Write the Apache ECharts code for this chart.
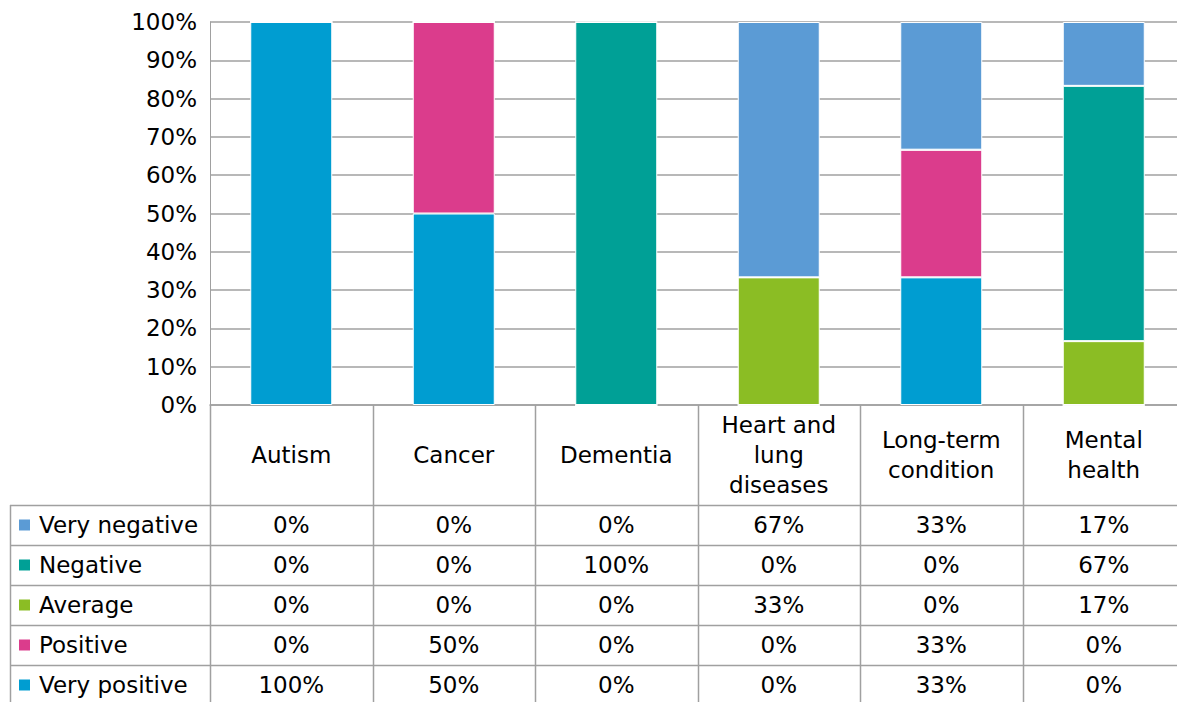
<!DOCTYPE html>
<html>
<head>
<meta charset="utf-8">
<title>Ratings by condition</title>
<script src="https://cdn.jsdelivr.net/npm/echarts@6/dist/echarts.min.js"></script>
<style>
  html, body { margin: 0; padding: 0; background: #fff; }
  #chart { width: 1177px; height: 702px; }
</style>
</head>
<body>
<div id="chart"></div>
<script>
// categories and values (percent of responses per condition)
const categories = ['Autism', 'Cancer', 'Dementia', 'Heart and\nlung\ndiseases', 'Long-term\ncondition', 'Mental\nhealth'];
const veryPositive = [100, 50, 0, 0, 33.33, 0];
const positive = [0, 50, 0, 0, 33.33, 0];
const average = [0, 0, 0, 33.33, 0, 16.67];
const negative = [0, 0, 100, 0, 0, 66.66];
const veryNegative = [0, 0, 0, 66.67, 33.33, 16.67];

// stack order, bottom to top
const seriesNames = ['Very positive', 'Positive', 'Average', 'Negative', 'Very negative'];
const seriesValues = [veryPositive, positive, average, negative, veryNegative];
const colors = ['#009dd1', '#db3c8c', '#8bbd24', '#00a096', '#5b9bd5'];

const FONT = 'DejaVu Sans';
const LINE = '#a0a0a0';
const axisY = 405;     // bottom of the plot
const headerH = 100;   // category label row
const rowH = 40;       // table rows

const chart = echarts.init(document.getElementById('chart'), null, { renderer: 'svg' });

chart.setOption({
  animation: false,
  color: colors,
  grid: { left: 210, width: 975, top: 22, bottom: 702 - axisY, outerBoundsMode: 'none', containLabel: false },
  xAxis: {
    type: 'category',
    data: categories,
    axisLine: { lineStyle: { color: LINE, width: 1.5 } },
    axisTick: { show: false },
    axisLabel: {
      interval: 0,
      margin: headerH / 2,
      verticalAlign: 'middle',
      fontFamily: FONT,
      fontSize: 23,
      lineHeight: 30,
      color: '#000'
    }
  },
  yAxis: {
    type: 'value',
    min: 0,
    max: 100,
    interval: 10,
    axisLine: { show: true, lineStyle: { color: LINE, width: 1 } },
    axisTick: { show: false },
    axisLabel: { formatter: '{value}%', margin: 13, fontFamily: FONT, fontSize: 23, color: '#000' },
    splitLine: { lineStyle: { color: LINE, width: 1.5 } }
  },
  series: seriesNames.map((name, i) => ({
    name: name,
    type: 'bar',
    stack: 'total',
    barWidth: 82,
    data: seriesValues[i],
    itemStyle: { borderColor: '#fff', borderWidth: 1 }
  }))
});

// data table under the axis
const graphic = [];
const tableTop = axisY + headerH;
const lineStyle = { stroke: LINE, lineWidth: 1.5 };
const c0 = chart.convertToPixel({ xAxisIndex: 0 }, 0);
const c1 = chart.convertToPixel({ xAxisIndex: 0 }, 1);
const band = c1 - c0;

// column separators
for (let c = 0; c <= categories.length; c++) {
  const x = Math.round(c0 - band / 2 + c * band) + 0.5;
  graphic.push({ type: 'line', shape: { x1: x, y1: axisY, x2: x, y2: 702 }, style: lineStyle });
}
graphic.push({ type: 'line', shape: { x1: 10.5, y1: tableTop, x2: 10.5, y2: 702 }, style: lineStyle });
for (let r = 0; r < seriesNames.length; r++) {
  const y = tableTop + r * rowH + 0.5;
  graphic.push({ type: 'line', shape: { x1: 10, y1: y, x2: 1185, y2: y }, style: lineStyle });
}

// rows: top row is the top of the stack
const rowNames = seriesNames.slice().reverse();
const rowValues = seriesValues.slice().reverse();
const rowColors = colors.slice().reverse();
rowValues.forEach((vals, r) => {
  const yMid = tableTop + r * rowH + rowH / 2;
  graphic.push({
    type: 'rect',
    shape: { x: 19, y: yMid - 5.5, width: 11, height: 11 },
    style: { fill: rowColors[r] }
  });
  graphic.push({
    type: 'text',
    x: 39,
    y: yMid,
    style: { text: rowNames[r], fontFamily: FONT, fontSize: 23, fill: '#000', align: 'left', verticalAlign: 'middle' }
  });
  vals.forEach((v, c) => {
    graphic.push({
      type: 'text',
      x: chart.convertToPixel({ xAxisIndex: 0 }, c),
      y: yMid,
      style: {
        text: Math.round(v) + '%',
        fontFamily: FONT,
        fontSize: 23,
        fill: '#000',
        align: 'center',
        verticalAlign: 'middle'
      }
    });
  });
});

chart.setOption({ graphic: graphic });
</script>
</body>
</html>
